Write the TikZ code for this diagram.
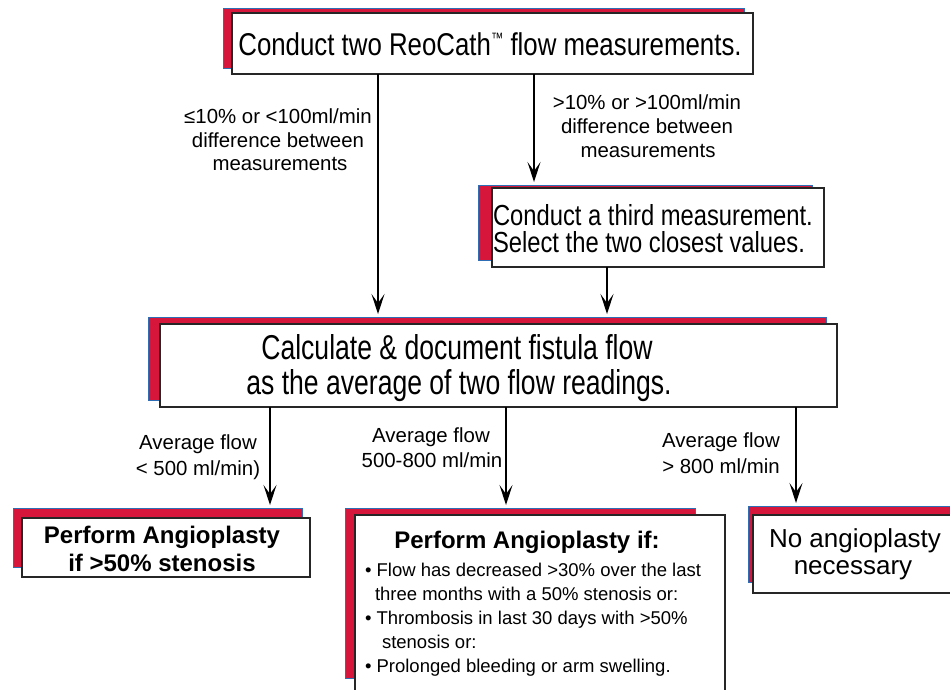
\documentclass[tikz,border=0pt]{standalone}
\usepackage{fontspec}
\setmainfont{Liberation Sans}
\newfontfamily\condfont[FakeStretch=0.82]{Liberation Sans}
\newfontfamily\calcfont[FakeStretch=0.77]{Liberation Sans}
\usetikzlibrary{arrows.meta}
\definecolor{shred}{RGB}{214,22,58}
\definecolor{shblue}{RGB}{45,110,180}
\begin{document}
\begin{tikzpicture}[x=1pt,y=-1pt,
  redbox/.style={fill=shred, draw=shblue, line width=1pt, inner sep=0pt, outer sep=0pt, anchor=north west},
  whitebox/.style={fill=white, draw=black!85, line width=1.3pt, inner sep=0pt, outer sep=0pt, anchor=north west},
  arr/.style={line width=1.3pt, -{Stealth[length=20pt,width=13pt,inset=9pt]}, shorten >=3pt},
  txt/.style={inner sep=0pt, outer sep=0pt, anchor=base},
  lbl/.style={txt, font=\fontsize{20.4}{24}\selectfont},
  bigc/.style={txt, font=\condfont\fontsize{31.5}{36}\selectfont},
  midc/.style={txt, anchor=base west, font=\condfont\fontsize{29}{33}\selectfont},
  calc/.style={txt, font=\calcfont\fontsize{34.5}{38}\selectfont},
  boldt/.style={txt, font=\bfseries\fontsize{24}{28}\selectfont},
  bul/.style={txt, anchor=base west, font=\fontsize{18.5}{22}\selectfont},
  noang/.style={txt, font=\fontsize{26}{30}\selectfont}
]
\path[use as bounding box] (0,0) rectangle (950,689);
\clip (0,0) rectangle (950,689);
\fill[white] (0,0) rectangle (950,689);

% coordinates for vertical connectors
\coordinate (xa) at (378,0);
\coordinate (xb) at (534,0);
\coordinate (xc) at (607,0);
\coordinate (xd) at (270,0);
\coordinate (xe) at (506,0);
\coordinate (xf) at (796,0);

% box 1
\node[redbox, minimum width=521pt, minimum height=60pt] (r1) at (223,8) {};
\node[whitebox, minimum width=521pt, minimum height=61pt] (w1) at (232,13) {};
\node[bigc] (t1) at (490,55) {Conduct two ReoCath{\fontsize{15}{15}\selectfont\raisebox{11.5pt}{™}} flow measurements.};

% box 2
\node[redbox, minimum width=334pt, minimum height=75pt] (r2) at (478,185) {};
\node[whitebox, minimum width=332pt, minimum height=79pt] (w2) at (492,188) {};
\node[midc] (t2a) at (493,225) {Conduct a third measurement.};
\node[midc] (t2b) at (493,252) {Select the two closest values.};

% box 3
\node[redbox, minimum width=678pt, minimum height=83pt] (r3) at (148,317) {};
\node[whitebox, minimum width=677pt, minimum height=83pt] (w3) at (160,324) {};
\node[calc] (t3a) at (457,359) {Calculate \& document fistula flow};
\node[calc] (t3b) at (459,394) {as the average of two flow readings.};

% box 4
\node[redbox, minimum width=289pt, minimum height=59pt] (r4) at (13,508) {};
\node[whitebox, minimum width=288pt, minimum height=59pt] (w4) at (22,518) {};
\node[boldt] (t4a) at (162,543) {Perform Angioplasty};
\node[boldt] (t4b) at (162,571) {if >50\% stenosis};

% box 5
\node[redbox, minimum width=350pt, minimum height=170pt] (r5) at (345,508) {};
\node[whitebox, minimum width=370pt, minimum height=200pt] (w5) at (355,515) {};
\node[boldt] (t5) at (527,548) {Perform Angioplasty if:};
\node[bul] (b1) at (365,576) {• Flow has decreased >30\% over the last};
\node[bul] (b2) at (375,600) {three months with a 50\% stenosis or:};
\node[bul] (b3) at (365,624) {• Thrombosis in last 30 days with >50\%};
\node[bul] (b4) at (382,648) {stenosis or:};
\node[bul] (b5) at (365,672) {• Prolonged bleeding or arm swelling.};

% box 6
\node[redbox, minimum width=220pt, minimum height=76pt] (r6) at (748,506) {};
\node[whitebox, minimum width=220pt, minimum height=78pt] (w6) at (753,515) {};
\node[noang] (t6a) at (855,547) {No angioplasty};
\node[noang] (t6b) at (853,574) {necessary};

% labels
\node[lbl] (la1) at (278,123) {≤10\% or <100ml/min};
\node[lbl] (la2) at (278,147) {difference between};
\node[lbl] (la3) at (280,170) {measurements};
\node[lbl] (lb1) at (647,109) {>10\% or >100ml/min};
\node[lbl] (lb2) at (647,133) {difference between};
\node[lbl] (lb3) at (648,157) {measurements};
\node[lbl] (lc1) at (198,449) {Average flow};
\node[lbl] (lc2) at (198,475) {< 500 ml/min)};
\node[lbl] (ld1) at (431,442) {Average flow};
\node[lbl] (ld2) at (432,467) {500-800 ml/min};
\node[lbl] (le1) at (721,447) {Average flow};
\node[lbl] (le2) at (721,473) {> 800 ml/min};

% connectors
\draw[arr] (w1.south -| xa) -- (r3.north -| xa);
\draw[arr] (w1.south -| xb) -- (r2.north -| xb);
\draw[arr] (w2.south -| xc) -- (r3.north -| xc);
\draw[arr] (w3.south -| xd) -- (r4.north -| xd);
\draw[arr] (w3.south -| xe) -- (r5.north -| xe);
\draw[arr] (w3.south -| xf) -- (r6.north -| xf);
\end{tikzpicture}
\end{document}
